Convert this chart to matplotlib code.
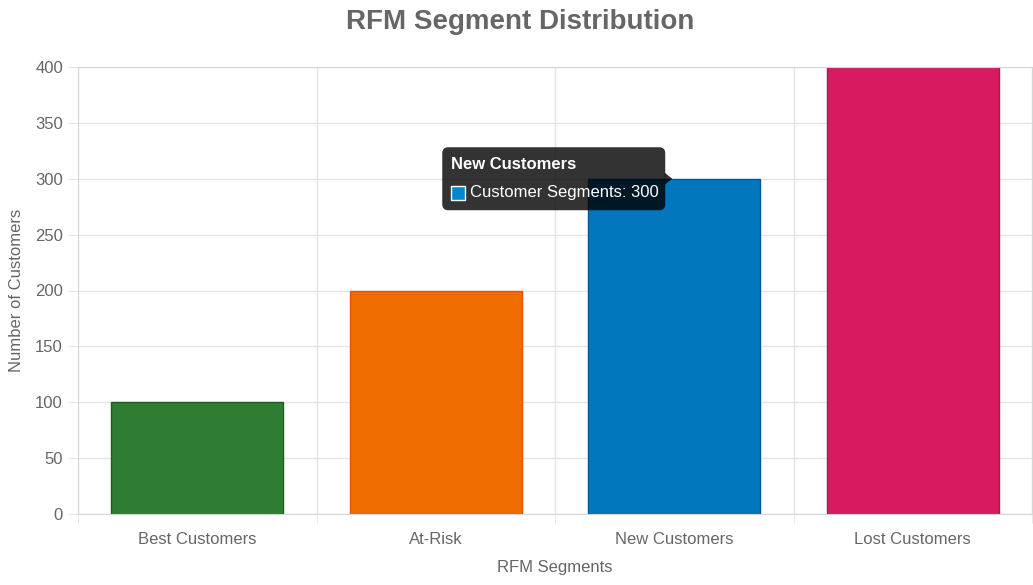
import matplotlib
matplotlib.use("Agg")
import matplotlib.pyplot as plt
from matplotlib.patches import FancyBboxPatch, Polygon, Rectangle
from matplotlib.transforms import IdentityTransform

# ---------------------- data ----------------------
segments = ["Best Customers", "At-Risk", "New Customers", "Lost Customers"]
customers = [100, 200, 300, 400]
bar_colors = ["#2E7D32", "#EF6C00", "#0277BD", "#D81B60"]
edge_colors = ["#1B5E20", "#E65100", "#01579B", "#AD1457"]
y_ticks = [0, 50, 100, 150, 200, 250, 300, 350, 400]
series_name = "Customer Segments"
hover_idx = 2
# --------------------------------------------------

plt.rcParams["font.family"] = ["Liberation Sans", "DejaVu Sans"]
TXT = "#666666"
GRID = "#e4e4e4"

fig = plt.figure(figsize=(10.33, 5.85), dpi=100)
ax = fig.add_axes([78 / 1033, 1 - 514 / 585, (1032 - 78) / 1033, (514 - 67) / 585])

x = list(range(len(segments)))
ax.bar(x, customers, width=0.72, color=bar_colors, edgecolor=edge_colors,
       linewidth=1, zorder=3)

ax.set_xlim(-0.5, len(segments) - 0.5)
ax.set_ylim(0, 400)
ax.set_yticks(y_ticks)
ax.set_xticks(x)
ax.set_xticklabels(segments)
ax.set_xticks([i - 0.5 for i in range(len(segments) + 1)], minor=True)

ax.tick_params(axis="y", length=7.2, color=GRID, labelcolor=TXT, labelsize=12, pad=3.6)
ax.tick_params(axis="x", which="major", length=0, labelcolor=TXT, labelsize=12, pad=13)
ax.tick_params(axis="x", which="minor", length=6.5, color=GRID)

ax.grid(axis="y", color=GRID, linewidth=1, zorder=0)
ax.grid(axis="x", which="minor", color=GRID, linewidth=1, zorder=0)
ax.grid(axis="x", which="major", visible=False)
for s in ax.spines.values():
    s.set_color("#d6d6d6")
    s.set_zorder(4)

ax.set_xlabel("RFM Segments", color=TXT, fontsize=12, labelpad=9)
ax.set_ylabel("Number of Customers", color=TXT, fontsize=12, labelpad=8)

fig.text(520 / 1033, 1 - 22 / 585, "RFM Segment Distribution", ha="center", va="center",
         fontsize=20, fontweight="bold", color=TXT)

# tooltip anchored to the hovered bar top
fig.canvas.draw()
axp, ayp = ax.transData.transform((hover_idx, customers[hover_idx]))
w, h = 223, 63
right = axp - 9
left = right - w
tt = FancyBboxPatch((left, ayp - h / 2), w, h, boxstyle="round,pad=0,rounding_size=6",
                    transform=IdentityTransform(), facecolor=(0, 0, 0, 0.8),
                    edgecolor="none", zorder=10)
fig.add_artist(tt)
caret = Polygon([(right - 0.5, ayp + 6), (axp - 2, ayp), (right - 0.5, ayp - 6)],
                closed=True, transform=IdentityTransform(), facecolor=(0, 0, 0, 0.8),
                edgecolor="none", zorder=10)
fig.add_artist(caret)
fig.text(left + 9, ayp + 14, segments[hover_idx], transform=IdentityTransform(),
         ha="left", va="center", color="white", fontsize=12, fontweight="bold", zorder=11)
sq = Rectangle((left + 9, ayp - 21), 14, 14, transform=IdentityTransform(),
               facecolor="#0288D1", edgecolor="white", linewidth=1, zorder=11)
fig.add_artist(sq)
fig.text(left + 28, ayp - 14, f"{series_name}: {customers[hover_idx]}",
         transform=IdentityTransform(), ha="left", va="center", color="white",
         fontsize=12, zorder=11)

fig.savefig("out.png", dpi=100)
